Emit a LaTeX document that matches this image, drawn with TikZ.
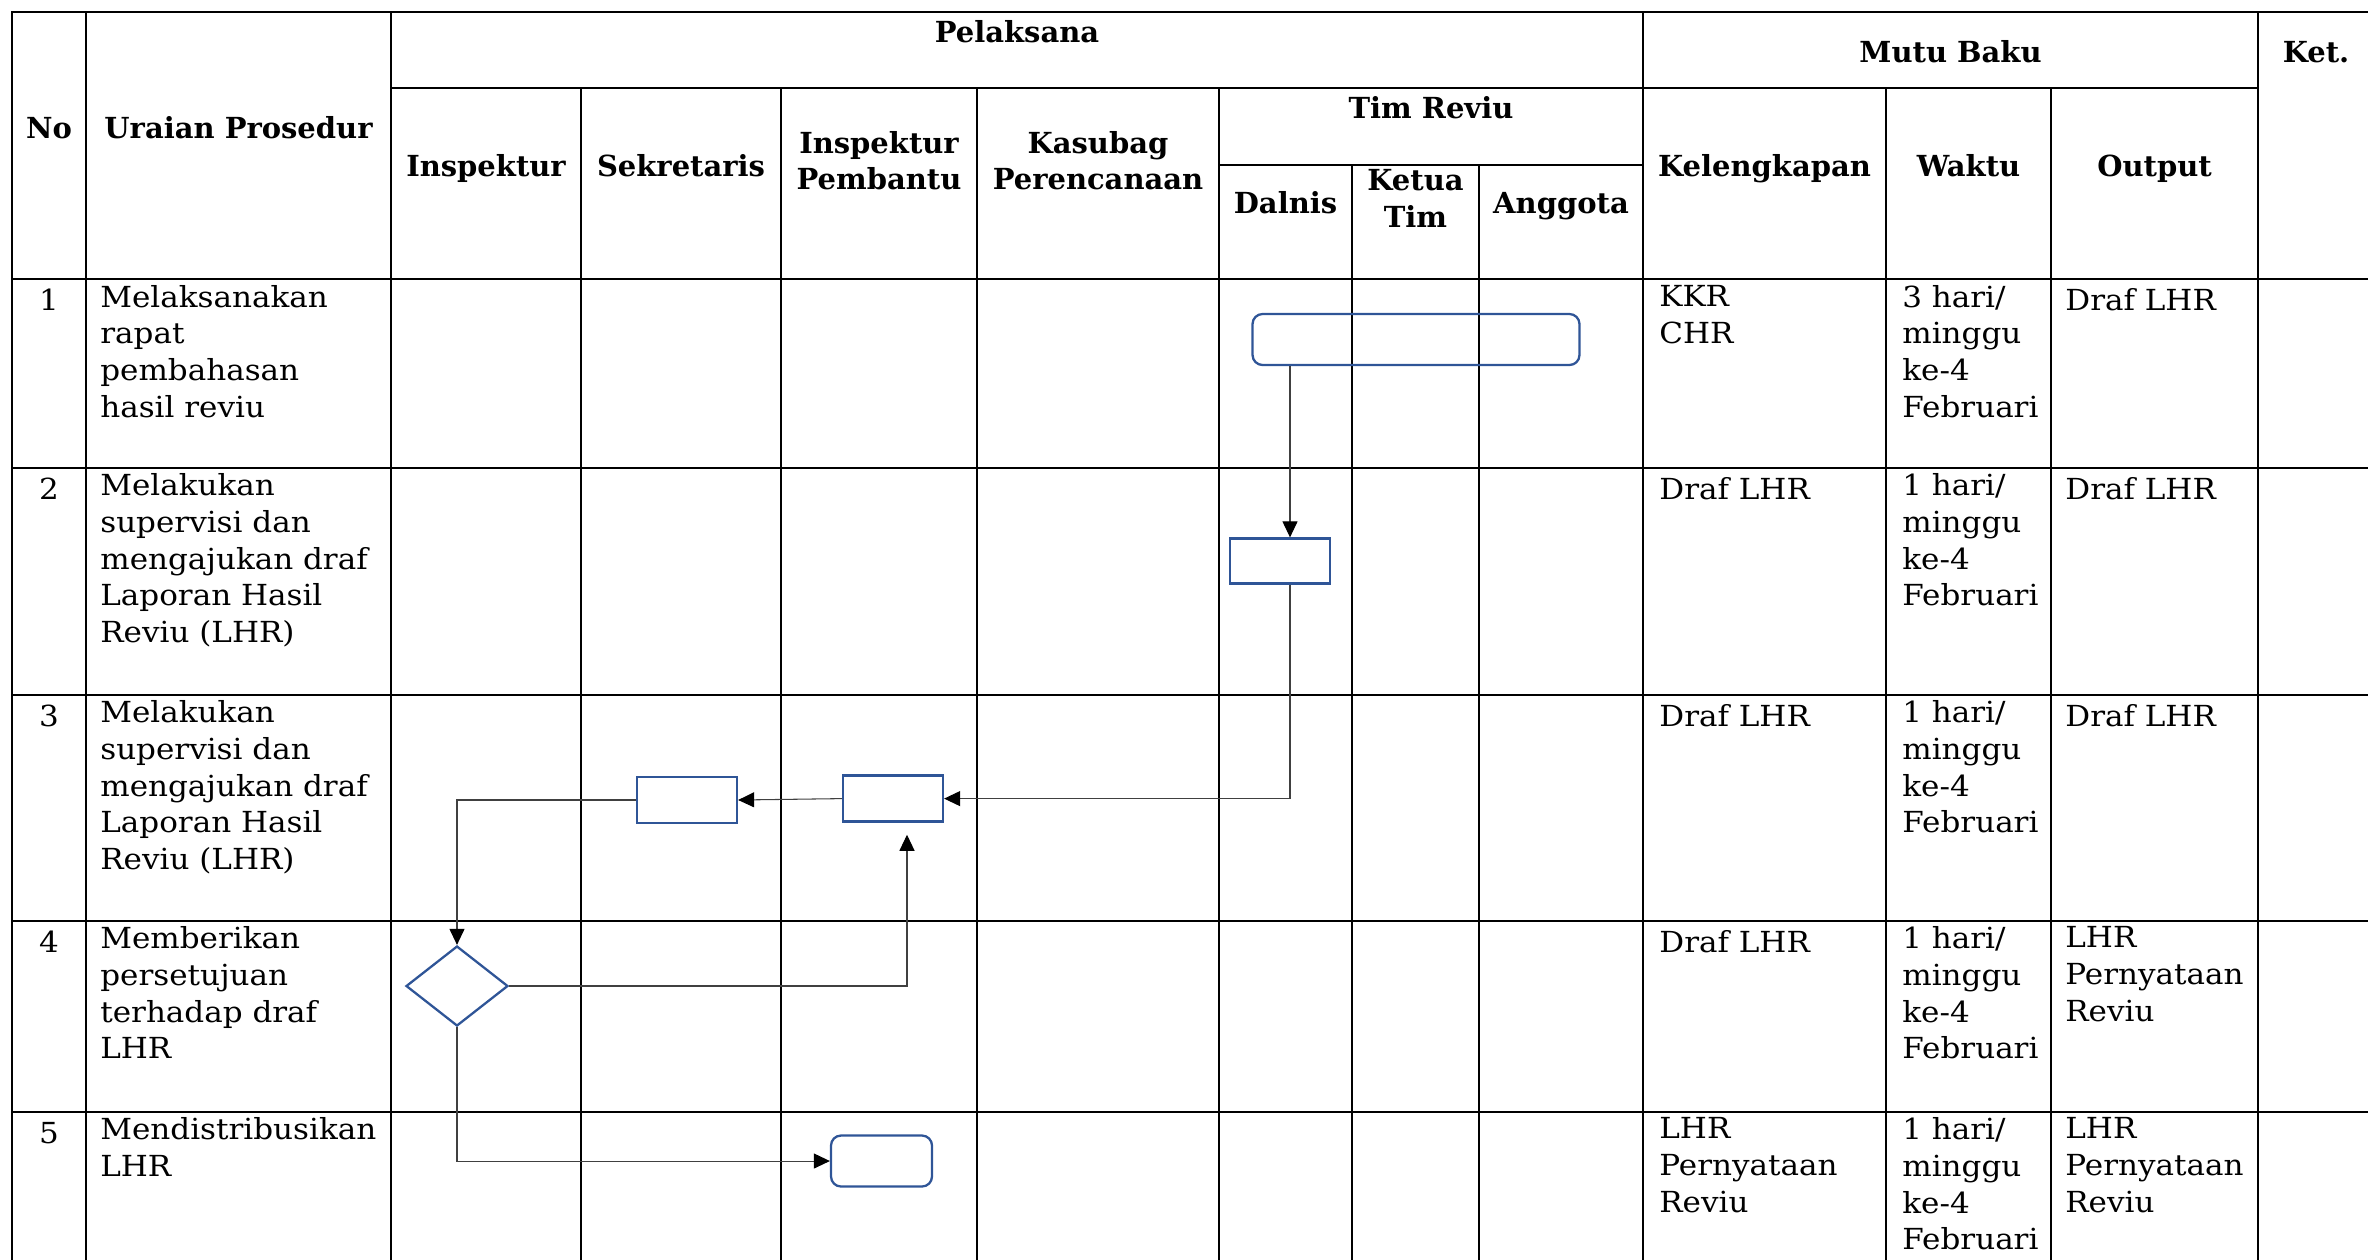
\documentclass[tikz,border=0pt]{standalone}
\usepackage{fontspec}
\setmainfont{DejaVu Serif}
\newfontfamily\bodyfont[FakeStretch=1.07]{DejaVu Serif}
\usetikzlibrary{arrows.meta,shapes.geometric}
\definecolor{flowblue}{HTML}{2F5597}

\begin{document}
\begin{tikzpicture}[
  x=0.02cm, y=-0.02cm,
  >={Triangle[length=3.2mm,width=3mm,color=black]},
  grid/.style={draw=black,line width=1.2pt,line cap=rect},
  head/.style={font=\fontsize{16.5}{20.9}\selectfont\bfseries,align=center,anchor=north,
               yshift=14.63pt,inner sep=0pt,execute at begin node=\strut},
  cell/.style={font=\bodyfont\fontsize{16.5}{20.9}\selectfont,align=left,anchor=north west,
               yshift=14.63pt,inner sep=0pt,execute at begin node=\strut},
  num/.style={cell,anchor=north},
  act/.style={rectangle,draw=flowblue,line width=1.3pt,minimum width=2cm,minimum height=0.92cm,inner sep=0pt},
  term/.style={act,rounded corners=0.2cm},
  dec/.style={diamond,draw=flowblue,line width=1.3pt,minimum width=2.04cm,minimum height=1.6cm,inner sep=0pt},
  flow/.style={->,draw=black!75,line width=0.6pt},
]
\useasboundingbox (0,0) rectangle (2368,1259);

%% ------------------------------------------------------------------ grid
\foreach \gy in {12,279,468,695,921,1112}
  \draw[grid] (12,\gy) -- (2368,\gy);
\draw[grid] (391,88) -- (2258,88);
\draw[grid] (1219,165) -- (1643,165);
\foreach \gx in {12,86,391,1643,2258}
  \draw[grid] (\gx,12) -- (\gx,1259);
\foreach \gx in {581,781,977,1219,1886,2051}
  \draw[grid] (\gx,88) -- (\gx,1259);
\foreach \gx in {1352,1479}
  \draw[grid] (\gx,165) -- (\gx,1259);

%% ---------------------------------------------------------------- header
\node[head] (hno) at (49,137.7) {No};
\node[head] (hur) at (238.5,137.7) {Uraian Prosedur};
\node[head] (hpel) at (1017,42) {Pelaksana};
\node[head] (hmutu) at (1950.5,61.7) {Mutu Baku};
\node[head] (hket) at (2316,61.7) {Ket.};
\node[head] (hins) at (486,176) {Inspektur};
\node[head] (hsek) at (681,176) {Sekretaris};
\node[head] (hip) at (879,156.5) {Inspektur\\Pembantu};
\node[head] (hkas) at (1098,156.5) {Kasubag\\Perencanaan};
\node[head] (htim) at (1431,118) {Tim Reviu};
\node[head] (hdal) at (1285.5,213) {Dalnis};
\node[head] (hkt) at (1415.5,195) {Ketua\\Tim};
\node[head] (hang) at (1561,213) {Anggota};
\node[head] (hkel) at (1764.5,175.7) {Kelengkapan};
\node[head] (hwak) at (1968.5,175.7) {Waktu};
\node[head] (hout) at (2154.5,175.7) {Output};

%% ------------------------------------------------------------------ rows
\foreach \rn/\ry/\rd in {1/310.5/3,2/499/1,3/726/1,4/952/1,5/1143/1}{
  \node[num] (n\rn) at (49,\ry) {\rn};
  \node[cell] (w\rn) at (1902,\ry) {\rd{} hari/\\minggu\\ke-4\\Februari};
}
\node[cell] (u1) at (100,310.5) {Melaksanakan\\rapat\\pembahasan\\hasil reviu};
\node[cell] (u2) at (100,499) {Melakukan\\supervisi dan\\mengajukan draf\\Laporan Hasil\\Reviu (LHR)};
\node[cell] (u3) at (100,726) {Melakukan\\supervisi dan\\mengajukan draf\\Laporan Hasil\\Reviu (LHR)};
\node[cell] (u4) at (100,952) {Memberikan\\persetujuan\\terhadap draf\\LHR};
\node[cell] (u5) at (100,1143) {Mendistribusikan\\LHR};

\node[cell] (k1) at (1659,310.5) {KKR\\CHR};
\node[cell] (k2) at (1659,499) {Draf LHR};
\node[cell] (k3) at (1659,726) {Draf LHR};
\node[cell] (k4) at (1659,952) {Draf LHR};
\node[cell] (k5) at (1659,1143) {LHR\\Pernyataan\\Reviu};

\node[cell] (o1) at (2065,310.5) {Draf LHR};
\node[cell] (o2) at (2065,499) {Draf LHR};
\node[cell] (o3) at (2065,726) {Draf LHR};
\node[cell] (o4) at (2065,952) {LHR\\Pernyataan\\Reviu};
\node[cell] (o5) at (2065,1143) {LHR\\Pernyataan\\Reviu};

%% ------------------------------------------------------------------ flow
\node[term,minimum width=6.54cm,minimum height=1.02cm] (s1) at (1416,339.5) {};
\node[act,minimum height=0.9cm] (s2) at (1280,561) {};
\node[act] (s3b) at (893,798.6) {};
\node[act] (s3a) at (687,800) {};
\node[dec] (s4) at (457,986) {};
\node[term,minimum width=2.02cm,minimum height=1.02cm] (s5) at (881.5,1161) {};

\coordinate (lane) at (1290,0);
\coordinate (back) at (907,0);
\draw[flow] (s1.south -| lane) -- (s2.north -| lane);
\draw[flow] (s2.south -| lane) |- (s3b.east);
\draw[flow] (s3b.west) -- (s3a.east);
\draw[flow] (s3a.west) -| (s4.north);
\draw[flow,shorten >=0.24cm] (s4.east) -| (s3b.south -| back);
\draw[flow] (s4.south) |- (s5.west);

\end{tikzpicture}
\end{document}
